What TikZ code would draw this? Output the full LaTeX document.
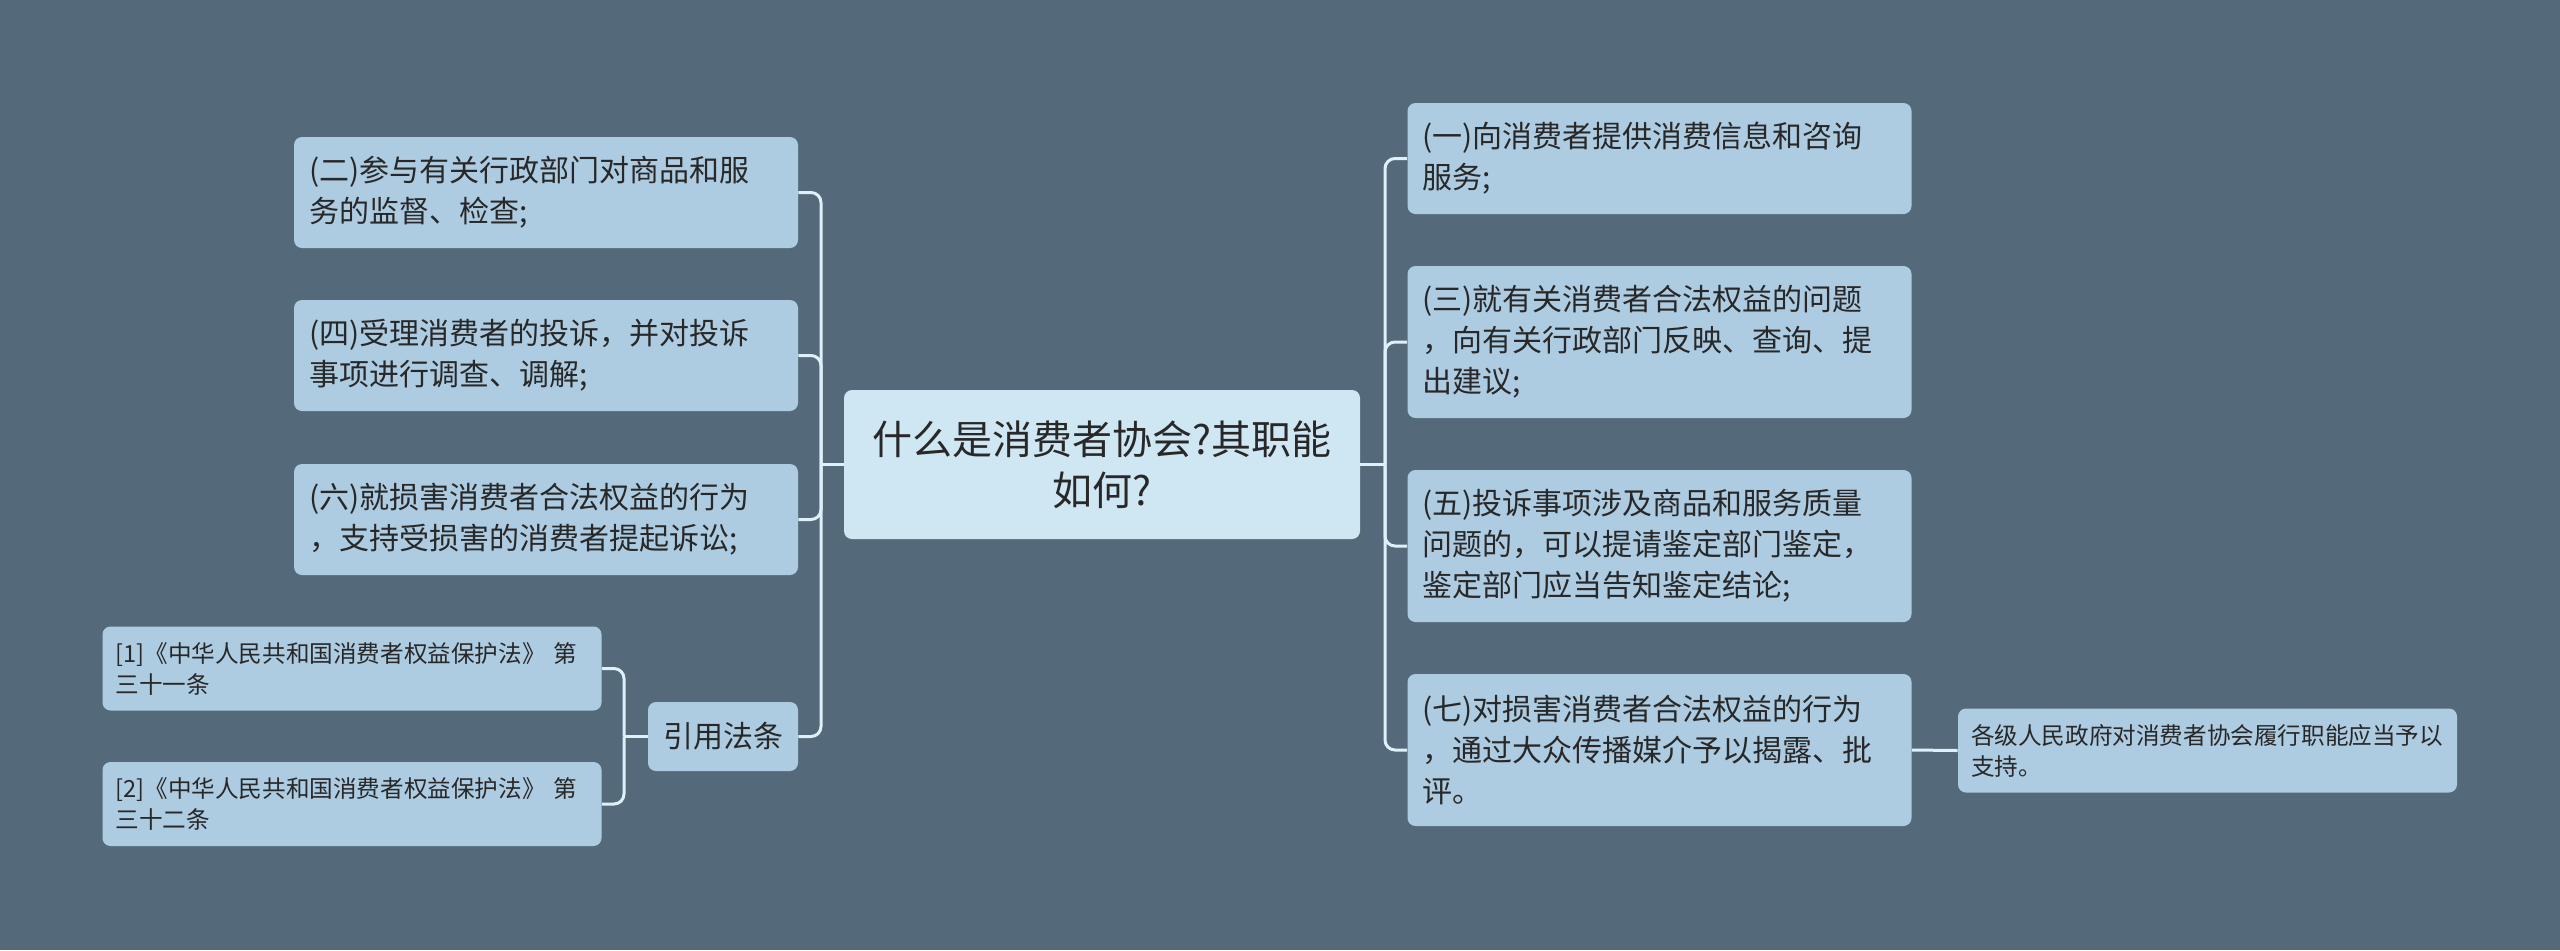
\documentclass[tikz,border=0pt]{standalone}
\usepackage{fontspec}
\setmainfont{Noto Sans CJK SC}
\definecolor{bgcol}{RGB}{84,106,122}
\definecolor{boxcol}{RGB}{173,203,225}
\definecolor{rootcol}{RGB}{207,230,243}
\definecolor{linkcol}{RGB}{222,240,250}
\definecolor{txtcol}{RGB}{40,40,40}

\begin{document}
\begin{tikzpicture}[x=0.5pt,y=-0.5pt,
  box/.style={rectangle,rounded corners=4pt,fill=boxcol,text=txtcol,inner xsep=7.5pt,
    inner ysep=0pt,align=left,font=\fontsize{15}{20.5}\selectfont},
  sidebox/.style={box,minimum width=252pt,text width=237pt},
  smallbox/.style={box,inner xsep=6.5pt,minimum width=249.5pt,minimum height=42pt,text width=236.5pt,
    font=\fontsize{11.8}{15.5}\selectfont},
  rootbox/.style={box,fill=rootcol,align=center,minimum width=258pt,minimum height=74.5pt,
    font=\fontsize{20}{25.5}\selectfont},
  link/.style={draw=linkcol,line width=1.5pt,rounded corners=5pt}]
\fill[bgcol] (0,0) rectangle (2560,950);

\node[rootbox] (root) at (1102,464.5) {什么是消费者协会?其职能\\如何?};

\node[sidebox,minimum height=55.5pt] (n2) at (546,192.5) {(二)参与有关行政部门对商品和服\\务的监督、检查;};
\node[sidebox,minimum height=55.5pt] (n4) at (546,355.5) {(四)受理消费者的投诉，并对投诉\\事项进行调查、调解;};
\node[sidebox,minimum height=55.5pt] (n6) at (546,519.5) {(六)就损害消费者合法权益的行为\\，支持受损害的消费者提起诉讼;};
\node[box,align=center,minimum width=75pt,minimum height=34.5pt] (cite) at (723,736.5) {引用法条};
\node[smallbox] (law1) at (352,668.5) {[1]《中华人民共和国消费者权益保护法》 第\\三十一条};
\node[smallbox] (law2) at (352,804) {[2]《中华人民共和国消费者权益保护法》 第\\三十二条};

\node[sidebox,minimum height=55.5pt] (n1) at (1659.5,158.5) {(一)向消费者提供消费信息和咨询\\服务;};
\node[sidebox,minimum height=76pt] (n3) at (1659.5,342) {(三)就有关消费者合法权益的问题\\，向有关行政部门反映、查询、提\\出建议;};
\node[sidebox,minimum height=76pt] (n5) at (1659.5,546) {(五)投诉事项涉及商品和服务质量\\问题的，可以提请鉴定部门鉴定，\\鉴定部门应当告知鉴定结论;};
\node[sidebox,minimum height=76pt] (n7) at (1659.5,750) {(七)对损害消费者合法权益的行为\\，通过大众传播媒介予以揭露、批\\评。};
\node[smallbox] (gov) at (2207.5,750.5) {各级人民政府对消费者协会履行职能应当予以\\支持。};

\coordinate (lj) at (821,464.5);
\coordinate (rj) at (1385,464.5);
\coordinate (cj) at (624,736.5);

\draw[link] (root.west) -- (lj);
\draw[link] (lj) |- (n2.east);
\draw[link] (lj) |- (n4.east);
\draw[link] (lj) |- (n6.east);
\draw[link] (lj) |- (cite.east);
\draw[link] (cite.west) -- (cj);
\draw[link] (cj) |- (law1.east);
\draw[link] (cj) |- (law2.east);

\draw[link] (root.east) -- (rj);
\draw[link] (rj) |- (n1.west);
\draw[link] (rj) |- (n3.west);
\draw[link] (rj) |- (n5.west);
\draw[link] (rj) |- (n7.west);
\draw[link] (n7.east) -- (gov.west);
\end{tikzpicture}
\end{document}
